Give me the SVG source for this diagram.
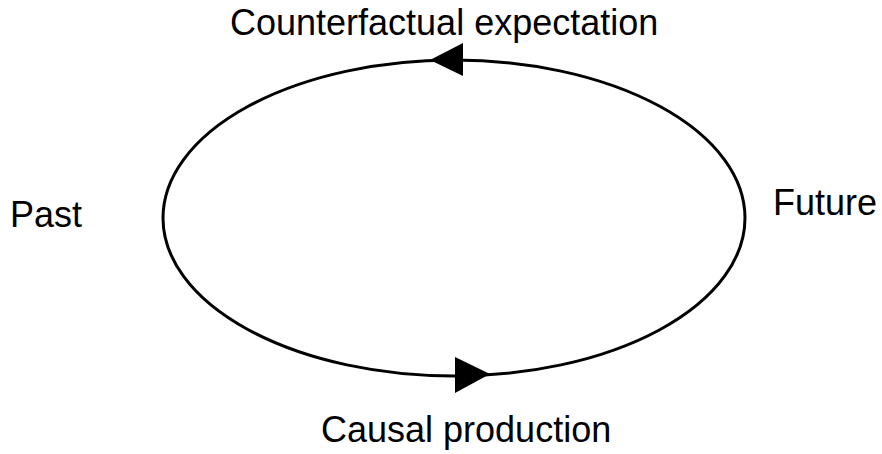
<svg xmlns="http://www.w3.org/2000/svg" width="882" height="454" viewBox="0 0 882 454">
<style>
text{font-family:"Liberation Sans",Arial,sans-serif;font-size:36px;fill:#000}
.c{fill:none;stroke:#000;stroke-width:3}
.ah{fill:#000;stroke:none}
</style>
<rect width="882" height="454" fill="#fff"/>
<g id="connectors">
<ellipse class="c" cx="454" cy="218" rx="291" ry="158"/>
<polygon class="ah" points="430,60 463,43 463,76"/>
<polygon class="ah" points="490,374 455,357 455,393"/>
</g>
<g id="past"><text x="10" y="227">Past</text></g>
<g id="future"><text x="773" y="215">Future</text></g>
<g id="counterfactual"><text x="230" y="35">Counterfactual expectation</text></g>
<g id="causal"><text x="321" y="442">Causal production</text></g>
</svg>
